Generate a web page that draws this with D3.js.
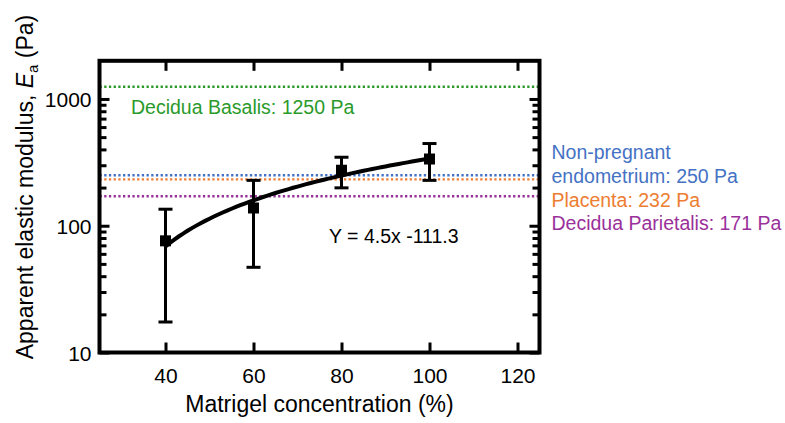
<!DOCTYPE html>
<html>
<head>
<meta charset="utf-8">
<script src="https://cdn.jsdelivr.net/npm/d3@7/dist/d3.min.js"></script>
<style>
  html, body { margin: 0; padding: 0; background: #fff; }
  svg text { font-family: "Liberation Sans", Arial, Helvetica, sans-serif; }
</style>
</head>
<body>
<svg id="chart" width="785" height="423"></svg>
<script>
// ---- data ----
const concentrations = [40, 60, 80, 100];
const modulusMean = [76, 138, 274, 336];
const errorUpper = [135, 228, 347, 445];
const errorLower = [17.4, 47, 199, 228];

const fitSlope = 4.5;
const fitIntercept = -111.3;
const fitRange = [40, 100];
const fitLabel = "Y = 4.5x -111.3";

const refValues = [1250, 250, 232, 171];
const refColors = ["#2a9a2a", "#4472c4", "#ed7d31", "#9a309a"];
const refLabels = [
  ["Decidua Basalis: 1250 Pa"],
  ["Non-pregnant", "endometrium: 250 Pa"],
  ["Placenta: 232 Pa"],
  ["Decidua Parietalis: 171 Pa"]
];

const xTicks = [40, 60, 80, 100, 120];
const yTicks = [10, 100, 1000];
const yMinorTicks = [20,30,40,50,60,70,80,90,200,300,400,500,600,700,800,900];

// ---- layout ----
const svg = d3.select("#chart");
const L = 99.5, R = 539.5, T = 60.8, B = 352.5;
const x = d3.scaleLinear().domain([25, 125]).range([L, R]);
const y = d3.scaleLog().domain([10, 2000]).range([B, T]);

const font = '"Liberation Sans", Arial, sans-serif';

// reference lines
refValues.forEach((v, i) => {
  svg.append("line")
    .attr("x1", L).attr("x2", R)
    .attr("y1", y(v)).attr("y2", y(v))
    .attr("stroke", refColors[i])
    .attr("stroke-width", 2.4)
    .attr("stroke-dasharray", "2.3,2.4");
});

// axes
const tickMajor = 10, tickMinor = 7;
const gBottom = svg.append("g").attr("transform", `translate(0,${B})`)
  .call(d3.axisBottom(x).tickValues(xTicks).tickSizeInner(-tickMajor).tickSizeOuter(0).tickPadding(16));
const gTop = svg.append("g").attr("transform", `translate(0,${T})`)
  .call(d3.axisTop(x).tickValues(xTicks).tickSizeInner(-tickMajor).tickSizeOuter(0).tickFormat(""));
const gLeft = svg.append("g").attr("transform", `translate(${L},0)`)
  .call(d3.axisLeft(y).tickValues(yTicks).tickSizeInner(-tickMajor).tickSizeOuter(0).tickPadding(8).tickFormat(d3.format("d")));
const gLeftMinor = svg.append("g").attr("transform", `translate(${L},0)`)
  .call(d3.axisLeft(y).tickValues(yMinorTicks).tickSizeInner(-tickMinor).tickSizeOuter(0).tickFormat(""));
const gRight = svg.append("g").attr("transform", `translate(${R},0)`)
  .call(d3.axisRight(y).tickValues(yTicks).tickSizeInner(-tickMajor).tickSizeOuter(0).tickFormat(""));
const gRightMinor = svg.append("g").attr("transform", `translate(${R},0)`)
  .call(d3.axisRight(y).tickValues(yMinorTicks).tickSizeInner(-tickMinor).tickSizeOuter(0).tickFormat(""));

[gBottom, gTop, gLeft, gLeftMinor, gRight, gRightMinor].forEach(g => {
  g.select(".domain").remove();
  g.selectAll(".tick line").attr("stroke", "#000").attr("stroke-width", 3);
  g.selectAll(".tick text").attr("fill", "#000").style("font-size", "21px").style("font-family", font);
});
gLeft.selectAll(".tick text").attr("dy", "0.36em");

// frame
svg.append("rect")
  .attr("x", L).attr("y", T).attr("width", R - L).attr("height", B - T)
  .attr("fill", "none").attr("stroke", "#000").attr("stroke-width", 4);

// reference labels
svg.append("text")
  .attr("x", 131).attr("y", 114)
  .attr("fill", refColors[0])
  .style("font-size", "19.5px")
  .text(refLabels[0][0]);

const rightBaselines = [[159.3, 183.3], [206.7], [230]];
[1, 2, 3].forEach((idx, k) => {
  refLabels[idx].forEach((line, j) => {
    svg.append("text")
      .attr("x", 551.5).attr("y", rightBaselines[k][j])
      .attr("fill", refColors[idx])
      .style("font-size", "19.5px")
      .text(line);
  });
});

// fit curve
const fitXs = d3.range(fitRange[0], fitRange[1] + 0.001, 1);
svg.append("path")
  .datum(fitXs)
  .attr("fill", "none")
  .attr("stroke", "#000")
  .attr("stroke-width", 4)
  .attr("d", d3.line().x(d => x(d)).y(d => y(fitSlope * d + fitIntercept)));

// error bars
const capW = 7;
concentrations.forEach((c, i) => {
  const g = svg.append("g").attr("stroke", "#000").attr("stroke-width", 3);
  g.append("line").attr("x1", x(c)).attr("x2", x(c)).attr("y1", y(errorLower[i])).attr("y2", y(errorUpper[i]));
  g.append("line").attr("x1", x(c) - capW).attr("x2", x(c) + capW).attr("y1", y(errorLower[i])).attr("y2", y(errorLower[i]));
  g.append("line").attr("x1", x(c) - capW).attr("x2", x(c) + capW).attr("y1", y(errorUpper[i])).attr("y2", y(errorUpper[i]));
});

// markers
const ms = 11;
svg.selectAll("rect.pt").data(concentrations).enter().append("rect")
  .attr("class", "pt")
  .attr("x", d => x(d) - ms / 2)
  .attr("y", (d, i) => y(modulusMean[i]) - ms / 2)
  .attr("width", ms).attr("height", ms)
  .attr("fill", "#000");

// fit equation
svg.append("text")
  .attr("x", 329).attr("y", 243)
  .attr("fill", "#000")
  .style("font-size", "19.5px")
  .text(fitLabel);

// axis titles
svg.append("text")
  .attr("x", (L + R) / 2).attr("y", 412)
  .attr("text-anchor", "middle")
  .style("font-size", "23px")
  .text("Matrigel concentration (%)");

const yt = svg.append("text")
  .attr("transform", "translate(33,187) rotate(-90)")
  .attr("text-anchor", "middle")
  .style("font-size", "23px");
yt.append("tspan").text("Apparent elastic modulus, ");
yt.append("tspan").style("font-style", "italic").text("E");
yt.append("tspan").attr("dy", 5).style("font-size", "15px").text("a");
yt.append("tspan").attr("dy", -5).text(" (Pa)");
</script>
</body>
</html>
